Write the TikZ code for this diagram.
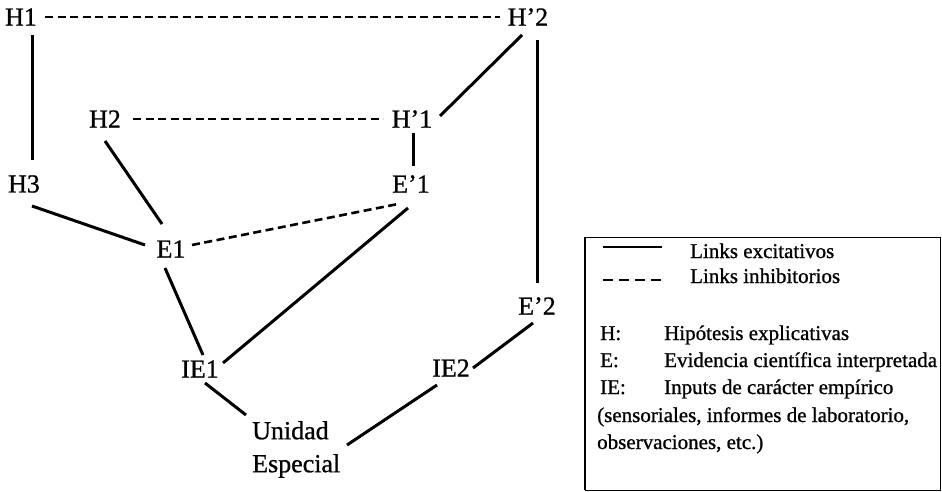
\documentclass[tikz,border=0pt]{standalone}
\usepackage{fontspec}
\setmainfont{Liberation Serif}[FakeBold=0.9]
\begin{document}
\begin{tikzpicture}[x=1pt,y=-1pt,
  lab/.style={inner sep=0pt, font=\fontsize{26}{30}\selectfont},
  exc/.style={line width=3pt},
  inh/.style={line width=2.6pt, dash pattern=on 8pt off 4.5pt},
  leg/.style={inner sep=0pt, anchor=base west, font=\fontsize{21}{25}\selectfont}]
\useasboundingbox (0,0) rectangle (942,492);

% nodes
\node[lab] (H1)  at (21,17)  {H1};
\node[lab] (Hp2) at (528,17) {H’2};
\node[lab] (H2)  at (105,119) {H2};
\node[lab] (Hp1) at (412,119) {H’1};
\node[lab] (H3)  at (24,184) {H3};
\node[lab] (Ep1) at (411,184) {E’1};
\node[lab] (E1)  at (171,249) {E1};
\node[lab] (Ep2) at (537,306) {E’2};
\node[lab] (IE1) at (200,369) {IE1};
\node[lab] (IE2) at (451,368) {IE2};
\node[lab, anchor=north west, align=left, font=\fontsize{26}{33}\selectfont] (U) at (252,421) {Unidad\\Especial};

% connectors
\draw[inh] ([shift={(24,0)}]H1.center) -- ([shift={(-28,0)}]Hp2.center);
\draw[exc] ([shift={(11,18)}]H1.center) -- ([shift={(8,-24)}]H3.center);
\draw[exc] ([shift={(-6,18)}]Hp2.center) -- ([shift={(28,-3)}]Hp1.center);
\draw[exc] ([shift={(9,23)}]Hp2.center) -- ([shift={(0,-23)}]Ep2.center);
\draw[inh] ([shift={(28,0)}]H2.center) -- ([shift={(-29,0)}]Hp1.center);
\draw[exc] ([shift={(1,14)}]Hp1.center) -- ([shift={(2,-18)}]Ep1.center);
\draw[exc] ([shift={(8,22)}]H3.center) -- ([shift={(-26,-4)}]E1.center);
\draw[exc] ([shift={(0,22)}]H2.center) -- ([shift={(-9,-25)}]E1.center);
\draw[inh] ([shift={(21,-4)}]E1.center) -- ([shift={(-13,20)}]Ep1.center);
\draw[exc] ([shift={(-3,24)}]Ep1.center) -- ([shift={(23,-6)}]IE1.center);
\draw[exc] ([shift={(-6,19)}]E1.center) -- ([shift={(3,-14)}]IE1.center);
\draw[exc] ([shift={(5,14)}]IE1.center) -- ([shift={(-6,-6)}]U.north west);
\draw[exc] ([shift={(-14,17)}]IE2.center) -- ([shift={(95,24)}]U.north west);
\draw[exc] ([shift={(-4,17)}]Ep2.center) -- ([shift={(22,0)}]IE2.center);

% legend box
\draw[line width=0.8pt] (585,237) rectangle (940,490);
\draw[line width=2.4pt] (585,237) -- (585,490);
\coordinate (sa) at (603,247);
\coordinate (sb) at (662,247);
\coordinate (da) at (603,280);
\coordinate (db) at (662,280);
\draw[line width=2.4pt] (sa) -- (sb);
\draw[line width=2.4pt, dash pattern=on 10pt off 6pt] (da) -- (db);
\node[leg] (L1) at (690,258) {Links excitativos};
\node[leg] (L2) at (690,283) {Links inhibitorios};
\node[leg] (kH) at (600,340) {H:};
\node[leg] (dH) at (664,340) {Hipótesis explicativas};
\node[leg] (kE) at (600,367) {E:};
\node[leg] (dE) at (664,367) {Evidencia científica interpretada};
\node[leg] (kI) at (600,394) {IE:};
\node[leg] (dI) at (664,394) {Inputs de carácter empírico};
\node[leg] (s1) at (597,422) {(sensoriales, informes de laboratorio,};
\node[leg] (s2) at (597,449) {observaciones, etc.)};
\end{tikzpicture}
\end{document}
